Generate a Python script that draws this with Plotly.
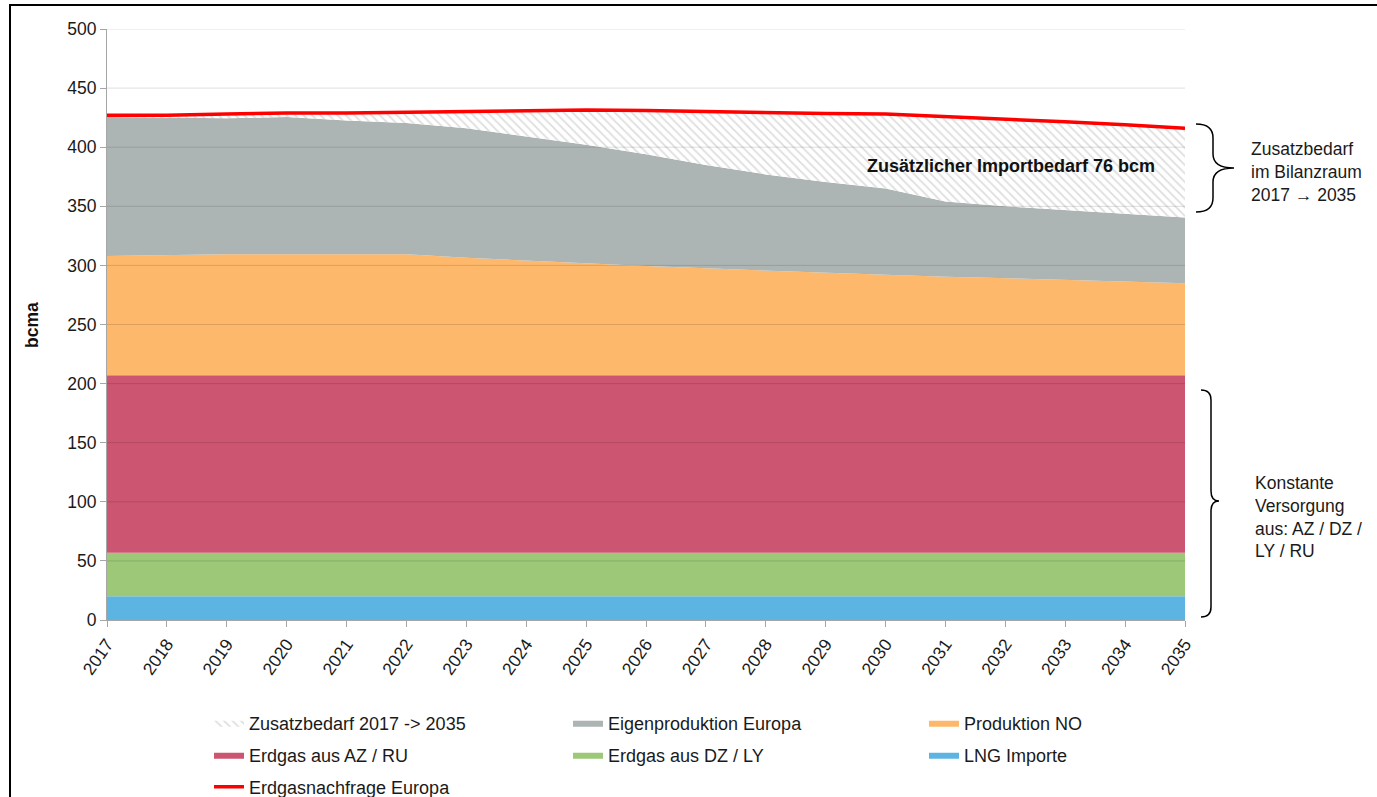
import plotly.graph_objects as go

# ---------------- data (bcma) ----------------
years = [2017, 2018, 2019, 2020, 2021, 2022, 2023, 2024, 2025, 2026,
         2027, 2028, 2029, 2030, 2031, 2032, 2033, 2034, 2035]
lng_importe = [20, 20, 20, 20, 20, 20, 20, 20, 20, 20,
               20, 20, 20, 20, 20, 20, 20, 20, 20]
erdgas_dz_ly = [37, 37, 37, 37, 37, 37, 37, 37, 37, 37,
                37, 37, 37, 37, 37, 37, 37, 37, 37]
erdgas_az_ru = [150, 150, 150, 150, 150, 150, 150, 150, 150, 150,
                150, 150, 150, 150, 150, 150, 150, 150, 150]
produktion_no = [101, 102, 102.5, 102.5, 102.5, 102.5, 99.5, 97, 94.5, 92.5,
                 90.5, 88.5, 87, 85, 83.5, 82, 80.5, 79, 78]
eigenproduktion = [117.5, 116, 115, 116, 113, 111, 109.5, 105, 100.5, 94.5,
                   87.5, 81.5, 76.5, 73, 63.5, 61, 59.5, 58, 55.5]
zusatzbedarf = [1.5, 2, 3.5, 3.5, 6.5, 9, 14, 22, 29.5, 37,
                45, 52.5, 58, 63, 72, 73.5, 74.5, 75, 75.5]
nachfrage = [427, 427, 428, 429, 429, 429.5, 430, 431, 431.5, 431,
             430, 429.5, 428.5, 428, 426, 423.5, 421.5, 419, 416]
y_ticks = [0, 50, 100, 150, 200, 250, 300, 350, 400, 450, 500]

# ---------------- geometry helpers (pixel -> paper) ----------------
W, H = 1377, 797
L, R, T, B = 107, 1185, 29, 620


def px(x):
    return (x - L) / (R - L)


def py(y):
    return (B - y) / (B - T)


FONT = "Liberation Sans, Arial, sans-serif"
TXT = "#1a1a1a"
AX = "#A6A6A6"
FS = 17.5

# legend slots: (column x, row y) in pixels
COLS = [209, 568, 924]
ROWS = [723, 755, 787]

fig = go.Figure()

layers = [
    ("LNG Importe", lng_importe, "#5BB4E2", "legend6"),
    ("Erdgas aus DZ / LY", erdgas_dz_ly, "#9DC878", "legend5"),
    ("Erdgas aus AZ / RU", erdgas_az_ru, "#CC5571", "legend4"),
    ("Produktion NO", produktion_no, "#FDB86B", "legend3"),
    ("Eigenproduktion Europa", eigenproduktion, "#ADB5B4", "legend2"),
]
for name, vals, color, lg in layers:
    fig.add_trace(go.Scatter(
        x=years, y=vals, name=name, stackgroup="s", mode="lines",
        line=dict(width=0, color=color), fillcolor=color,
        legend=lg, hoverinfo="skip"))

fig.add_trace(go.Scatter(
    x=years, y=zusatzbedarf, name="Zusatzbedarf 2017 -> 2035",
    stackgroup="s", mode="lines", line=dict(width=0, color="white"),
    fillcolor="white",
    fillpattern=dict(shape="\\", fgcolor="#BDBDBD", bgcolor="white",
                     size=6, solidity=0.3),
    legend="legend", hoverinfo="skip"))

fig.add_trace(go.Scatter(
    x=years, y=nachfrage, name="Erdgasnachfrage Europa", mode="lines",
    line=dict(color="#FF0000", width=3.5), legend="legend7",
    hoverinfo="skip"))

# gridlines drawn above the areas (as in the original)
shapes = []
for v in y_ticks[1:]:
    shapes.append(dict(type="line", xref="paper", yref="y", x0=0, x1=1,
                       y0=v, y1=v, layer="above",
                       line=dict(color="rgba(0,0,0,0.13)", width=1)))


def brace(x0, xm, xt, ytop, ybot, ymid, r):
    pts = [
        f"M{px(x0)},{py(ytop)}",
        f"Q{px(xm)},{py(ytop)} {px(xm)},{py(ytop + r)}",
        f"L{px(xm)},{py(ymid - r)}",
        f"Q{px(xm)},{py(ymid)} {px(xt)},{py(ymid)}",
        f"Q{px(xm)},{py(ymid)} {px(xm)},{py(ymid + r)}",
        f"L{px(xm)},{py(ybot - r)}",
        f"Q{px(xm)},{py(ybot)} {px(x0)},{py(ybot)}",
    ]
    return dict(type="path", xref="paper", yref="paper", path=" ".join(pts),
                line=dict(color="black", width=1.5), layer="above")


shapes.append(brace(1196, 1213, 1234, 124, 212, 168, 14))
shapes.append(brace(1201, 1211, 1219, 390, 617, 501, 10))

# outer frame
shapes.append(dict(type="rect", xref="paper", yref="paper",
                   x0=px(10), x1=px(1420), y0=py(5), y1=py(840),
                   line=dict(color="black", width=2), layer="above"))

annotations = [
    dict(text="<b>Zusätzlicher Importbedarf 76 bcm</b>", x=2032.1, y=384,
         xref="x", yref="y", showarrow=False,
         font=dict(size=18, color="#111", family=FONT)),
    dict(text="<b>bcma</b>", x=px(32), y=py(325), xref="paper", yref="paper",
         xanchor="center", yanchor="middle",
         textangle=-90, showarrow=False,
         font=dict(size=FS, color="#111", family=FONT)),
    dict(text="Zusatzbedarf<br>im Bilanzraum<br>2017 → 2035",
         x=px(1249), y=py(172), xref="paper", yref="paper",
         xanchor="left", yanchor="middle", align="left", showarrow=False,
         font=dict(size=FS, color=TXT, family=FONT)),
    dict(text="Konstante<br>Versorgung<br>aus: AZ / DZ /<br>LY / RU",
         x=px(1253), y=py(517), xref="paper", yref="paper",
         xanchor="left", yanchor="middle", align="left", showarrow=False,
         font=dict(size=FS, color=TXT, family=FONT)),
]


def legend_at(col, row):
    return dict(orientation="v", x=px(COLS[col]), y=py(ROWS[row]),
                xanchor="left", yanchor="middle",
                font=dict(size=18, color=TXT, family=FONT),
                bgcolor="rgba(0,0,0,0)", borderwidth=0,
                itemclick=False, itemdoubleclick=False)


fig.update_layout(
    width=W, height=H,
    margin=dict(l=L, r=W - R, t=T, b=H - B, autoexpand=False),
    paper_bgcolor="white", plot_bgcolor="white",
    font=dict(family=FONT, size=FS, color=TXT),
    showlegend=True,
    legend=legend_at(0, 0),
    legend2=legend_at(1, 0),
    legend3=legend_at(2, 0),
    legend4=legend_at(0, 1),
    legend5=legend_at(1, 1),
    legend6=legend_at(2, 1),
    legend7=legend_at(0, 2),
    xaxis=dict(range=[2017, 2035], tickmode="array", tickvals=years,
               ticktext=[str(y) for y in years], tickangle=-55,
               ticks="outside", ticklen=6, tickcolor=AX, showline=True,
               linecolor=AX, linewidth=1, showgrid=False, zeroline=False,
               automargin=False, tickfont=dict(size=FS, color=TXT)),
    yaxis=dict(range=[0, 500], tickmode="array", tickvals=y_ticks,
               ticks="outside", ticklen=6, tickcolor=AX, showline=True,
               linecolor=AX, linewidth=1, showgrid=False, zeroline=False,
               automargin=False, tickfont=dict(size=FS, color=TXT)),
    shapes=shapes,
    annotations=annotations,
)

fig.write_html(
    "out.html",
    config={"displayModeBar": False},
    post_script="document.body.style.margin='0';document.body.style.overflow='hidden';",
)
